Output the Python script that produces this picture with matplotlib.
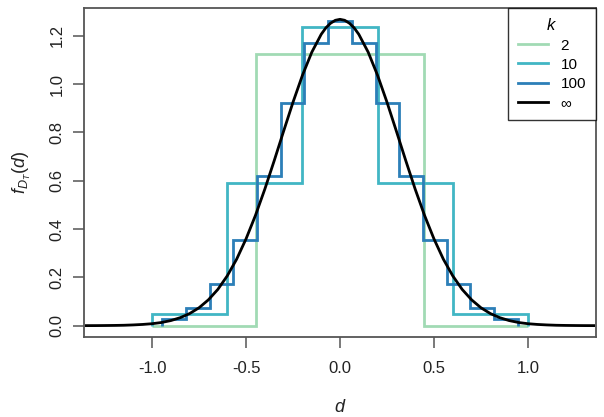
import matplotlib
matplotlib.use("Agg")
import matplotlib.pyplot as plt
from matplotlib.lines import Line2D

plt.rcParams['font.family'] = ['Liberation Sans', 'DejaVu Sans']
plt.rcParams['mathtext.fontset'] = 'custom'
plt.rcParams['mathtext.it'] = 'Liberation Sans:italic'
plt.rcParams['mathtext.rm'] = 'Liberation Sans'

# k = 2
edges_k2 = [-1.0, -0.447, 0.447, 1.0]
vals_k2 = [0.0, 1.124, 0.0]
# k = 10
edges_k10 = [-1.0, -0.6, -0.2, 0.2, 0.6, 1.0]
vals_k10 = [0.047, 0.590, 1.235, 0.590, 0.047]
# k = 100
edges_k100 = [-0.945, -0.819, -0.693, -0.567, -0.441, -0.315, -0.189, -0.063,
              0.063, 0.189, 0.315, 0.441, 0.567, 0.693, 0.819, 0.945]
vals_k100 = [0.026, 0.072, 0.172, 0.355, 0.619, 0.920, 1.168, 1.262,
             1.168, 0.920, 0.619, 0.355, 0.172, 0.072, 0.026]
# k = infinity (limiting density)
d_inf = [-1.35, -1.30, -1.25, -1.20, -1.15, -1.10, -1.05, -1.00, -0.95, -0.90,
         -0.85, -0.80, -0.75, -0.70, -0.65, -0.60, -0.55, -0.50, -0.45, -0.40,
         -0.35, -0.30, -0.25, -0.20, -0.15, -0.10, -0.075, -0.05, -0.025, 0.00,
         0.025, 0.05, 0.075, 0.10,
         0.15, 0.20, 0.25, 0.30, 0.35, 0.40, 0.45, 0.50, 0.55, 0.60, 0.65,
         0.70, 0.75, 0.80, 0.85, 0.90, 0.95, 1.00, 1.05, 1.10, 1.15, 1.20,
         1.25, 1.30, 1.35]
f_inf = [0.0001, 0.0002, 0.0005, 0.0009, 0.0016, 0.003, 0.005, 0.008, 0.013, 0.021,
         0.033, 0.050, 0.074, 0.107, 0.150, 0.206, 0.275, 0.359, 0.456, 0.565,
         0.683, 0.805, 0.925, 1.036, 1.132, 1.206, 1.233, 1.252, 1.264, 1.268,
         1.264, 1.252, 1.233, 1.206,
         1.132, 1.036, 0.925, 0.805, 0.683, 0.565, 0.456, 0.359, 0.275, 0.206, 0.150,
         0.107, 0.074, 0.050, 0.033, 0.021, 0.013, 0.008, 0.005, 0.003, 0.0016, 0.0009,
         0.0005, 0.0002, 0.0001]

labels = ["2", "10", "100", "\u221e"]
colors = ["#a1dab4", "#41b6c4", "#2c7fb8", "#000000"]
x_ticks = [-1.0, -0.5, 0.0, 0.5, 1.0]
y_ticks = [0.0, 0.2, 0.4, 0.6, 0.8, 1.0, 1.2]

fig = plt.figure(figsize=(6.04, 4.17), dpi=100)
ax = fig.add_axes([84/604, 1 - 337/417, (596-84)/604, (337-7.5)/417])

ax.stairs(vals_k2, edges_k2, baseline=0, color=colors[0], lw=2.0)
ax.stairs(vals_k10, edges_k10, baseline=0, color=colors[1], lw=2.0)
ax.stairs(vals_k100, edges_k100, baseline=0, color=colors[2], lw=2.0)
ax.plot(d_inf, f_inf, color=colors[3], lw=2.0)

ax.set_xlim(-1.362, 1.362)
ax.set_ylim(-0.047, 1.317)
ax.set_xticks(x_ticks)
ax.set_xticklabels([f"{v:.1f}" for v in x_ticks])
ax.set_yticks(y_ticks)
ax.set_yticklabels([f"{v:.1f}" for v in y_ticks], rotation=90, va='center')

for s in ax.spines.values():
    s.set_color('#555555')
    s.set_linewidth(1.3)
ax.tick_params(axis='both', length=8, width=1.1, color='#555555',
               labelsize=12, labelcolor='#222222', pad=6)
ax.tick_params(axis='x', pad=9)

ax.set_xlabel("$d$", fontsize=13, labelpad=17, color='#222222')
ax.set_ylabel("$f_{D_T}(d)$", fontsize=13, labelpad=12, color='#222222')

handles = [Line2D([], [], color=c, lw=2.0) for c in colors]
leg = ax.legend(handles, labels, loc='upper right', bbox_to_anchor=(1.0, 1.0),
                borderaxespad=0, frameon=True, fancybox=False, fontsize=11,
                title="$k$", title_fontsize=12, handlelength=1.95,
                labelspacing=0.34, borderpad=0.65, handletextpad=0.85)
leg.get_frame().set_edgecolor('#000000')
leg.get_frame().set_linewidth(1.0)

fig.savefig("out.png", dpi=100)
